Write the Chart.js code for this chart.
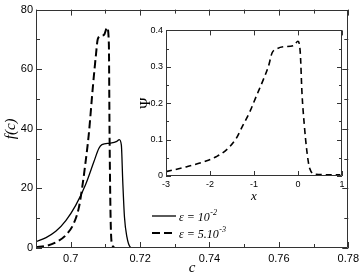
<!DOCTYPE html>
<html>
<head>
<meta charset="utf-8">
<script src="https://cdn.jsdelivr.net/npm/chart.js@4/dist/chart.umd.min.js"></script>
<style>
  html, body { margin: 0; padding: 0; background: #fff; }
  #wrap { position: relative; width: 363px; height: 273px; }
  #main { position: absolute; left: 0; top: 0; }
  #inset { position: absolute; left: 130px; top: 22px; }
</style>
</head>
<body>
<div id="wrap">
  <canvas id="main" width="363" height="273"></canvas>
  <canvas id="inset" width="218" height="180"></canvas>
</div>
<script>
// main panel: f(c) for the two epsilon values
const solidC = [0.69, 0.6929, 0.6957, 0.6986, 0.7014, 0.7043, 0.7067, 0.7081, 0.709, 0.7114, 0.7133, 0.714, 0.7146, 0.715, 0.7155, 0.7162, 0.7171, 0.718, 0.722];
const solidF = [2.1, 3.5, 5.6, 9.2, 14.2, 21.3, 29, 33.4, 34.7, 35.2, 35.8, 36.4, 34.5, 22.4, 10.3, 3.7, 0.4, 0, 0];
const dashC = [0.69, 0.6929, 0.6957, 0.6986, 0.7009, 0.7024, 0.7033, 0.7043, 0.7052, 0.7064, 0.7073, 0.7078, 0.7088, 0.7097, 0.7105, 0.711, 0.7112, 0.7115, 0.7119, 0.7129];
const dashF = [0.3, 0.7, 1.9, 4.3, 8.3, 13.8, 20.2, 29, 38, 54.2, 65.1, 70.1, 71.2, 71.7, 74, 68.5, 37.8, 10, 1.2, 0];

// inset: psi(x)
const insetX = [-3, -2.544, -2.09, -1.86, -1.633, -1.405, -1.253, -1.1, -0.966, -0.784, -0.67, -0.59, -0.517, -0.328, -0.1, 0, 0.052, 0.09, 0.144, 0.204, 0.265, 0.394, 0.96];
const insetPsi = [0.012, 0.025, 0.041, 0.053, 0.071, 0.103, 0.139, 0.175, 0.214, 0.266, 0.302, 0.338, 0.347, 0.355, 0.358, 0.37, 0.338, 0.229, 0.139, 0.066, 0.021, 0.005, 0.003];

// ticks
const cTicks = [0.7, 0.72, 0.74, 0.76, 0.78];
const cMinor = [0.69, 0.71, 0.73, 0.75, 0.77];
const fTicks = [0, 20, 40, 60, 80];
const fMinor = [10, 30, 50, 70];
const xTicks = [-3, -2, -1, 0, 1];
const psiTicks = [0, 0.1, 0.2, 0.3, 0.4];
const psiMinor = [0.05, 0.15, 0.25, 0.35];

const legendBase = ["\u03b5 = 10", "\u03b5 = 5.10"];
const legendExp = ["-2", "-3"];

const sansFont = "'Liberation Sans', Arial, sans-serif";
const serifFont = "'Liberation Serif', 'Times New Roman', serif";

function pts(xs, ys) {
  return xs.map((v, i) => ({ x: v, y: ys[i] }));
}

// box with inward ticks on all four sides
const frameTicks = {
  id: "frameTicks",
  afterDraw(chart, args, o) {
    const ctx = chart.ctx;
    const a = chart.chartArea;
    const sx = chart.scales.x, sy = chart.scales.y;
    ctx.save();
    ctx.strokeStyle = "#333";
    ctx.lineWidth = 1;
    ctx.beginPath();
    ctx.rect(Math.round(a.left) + 0.5, Math.round(a.top) + 0.5, Math.round(a.right - a.left) - 1, Math.round(a.bottom - a.top) - 1);
    const xt = (vals, len) => vals.forEach(v => {
      const p = Math.round(sx.getPixelForValue(v)) + 0.5;
      ctx.moveTo(p, a.bottom); ctx.lineTo(p, a.bottom - len);
      ctx.moveTo(p, a.top); ctx.lineTo(p, a.top + len);
    });
    const yt = (vals, len) => vals.forEach(v => {
      const p = Math.round(sy.getPixelForValue(v)) + 0.5;
      ctx.moveTo(a.left, p); ctx.lineTo(a.left + len, p);
      ctx.moveTo(a.right, p); ctx.lineTo(a.right - len, p);
    });
    xt(o.xMajor || [], o.major); xt(o.xMinor || [], o.minor);
    yt(o.yMajor || [], o.major); yt(o.yMinor || [], o.minor);
    ctx.stroke();
    ctx.restore();
  }
};

const epsLegend = {
  id: "epsLegend",
  afterDraw(chart) {
    const ctx = chart.ctx;
    ctx.save();
    const rows = [
      { y: 216, dash: [], w: 1.3 },
      { y: 233, dash: [8, 4], w: 2 }
    ];
    rows.forEach((r, i) => {
      ctx.beginPath();
      ctx.setLineDash(r.dash);
      ctx.lineWidth = r.w;
      ctx.strokeStyle = "#000";
      ctx.moveTo(152, r.y); ctx.lineTo(176, r.y);
      ctx.stroke();
      ctx.setLineDash([]);
      ctx.fillStyle = "#000";
      ctx.textBaseline = "middle";
      ctx.font = "italic 12px " + serifFont;
      ctx.fillText(legendBase[i], 179, r.y + 2);
      const w = ctx.measureText(legendBase[i]).width;
      ctx.font = "italic 8px " + serifFont;
      ctx.fillText(legendExp[i], 179 + w + 0.5, r.y - 3);
    });
    ctx.restore();
  }
};

new Chart(document.getElementById("main"), {
  type: "line",
  data: {
    datasets: [
      { data: pts(solidC, solidF), borderColor: "#000", borderWidth: 1.3, pointRadius: 0, cubicInterpolationMode: "monotone", fill: false },
      { data: pts(dashC, dashF), borderColor: "#000", borderWidth: 2, borderDash: [8, 4], pointRadius: 0, cubicInterpolationMode: "monotone", fill: false }
    ]
  },
  options: {
    responsive: false,
    animation: false,
    devicePixelRatio: 1,
    layout: { padding: { top: 5, right: 13, left: 0, bottom: 0 } },
    plugins: {
      legend: { display: false },
      tooltip: { enabled: false },
      frameTicks: { xMajor: cTicks, xMinor: cMinor, yMajor: fTicks, yMinor: fMinor, major: 6, minor: 4 }
    },
    scales: {
      x: {
        type: "linear", min: 0.69, max: 0.78,
        grid: { display: false, drawTicks: false }, border: { display: false },
        afterBuildTicks: s => { s.ticks = cTicks.map(v => ({ value: v })); },
        afterFit: s => { s.height = 25; },
        ticks: { padding: 4, color: "#000", maxRotation: 0, autoSkip: false, font: { family: sansFont, size: 11 }, callback: v => String(v) },
        title: { display: true, text: "c", color: "#000", padding: 0, font: { family: serifFont, size: 15, style: "italic", lineHeight: 0.7 } }
      },
      y: {
        type: "linear", min: 0, max: 80,
        grid: { display: false, drawTicks: false }, border: { display: false },
        afterBuildTicks: s => { s.ticks = fTicks.map(v => ({ value: v })); },
        afterFit: s => { s.width = 36; },
        ticks: { padding: 3, color: "#000", autoSkip: false, font: { family: sansFont, size: 11 }, callback: v => String(v) },
        title: { display: true, text: "f(c)", color: "#000", padding: { top: 4, bottom: 0 }, font: { family: serifFont, size: 15, style: "italic", lineHeight: 1 } }
      }
    }
  },
  plugins: [frameTicks, epsLegend]
});

new Chart(document.getElementById("inset"), {
  type: "line",
  data: {
    datasets: [
      { data: pts(insetX, insetPsi), borderColor: "#000", borderWidth: 1.6, borderDash: [6, 4], pointRadius: 0, cubicInterpolationMode: "monotone", fill: false }
    ]
  },
  options: {
    responsive: false,
    animation: false,
    devicePixelRatio: 1,
    layout: { padding: { top: 7, right: 6, left: 0, bottom: 0 } },
    plugins: {
      legend: { display: false },
      tooltip: { enabled: false },
      frameTicks: { xMajor: xTicks, yMajor: psiTicks, yMinor: psiMinor, major: 5, minor: 3 }
    },
    scales: {
      x: {
        type: "linear", min: -3, max: 1,
        grid: { display: false, drawTicks: false }, border: { display: false },
        afterBuildTicks: s => { s.ticks = xTicks.map(v => ({ value: v })); },
        afterFit: s => { s.height = 26; },
        ticks: { padding: 3, color: "#000", maxRotation: 0, autoSkip: false, font: { family: sansFont, size: 9 }, callback: v => String(v) },
        title: { display: true, text: "x", color: "#000", padding: 0, font: { family: serifFont, size: 13, style: "italic", lineHeight: 0.8 } }
      },
      y: {
        type: "linear", min: 0, max: 0.4,
        grid: { display: false, drawTicks: false }, border: { display: false },
        afterBuildTicks: s => { s.ticks = psiTicks.map(v => ({ value: v })); },
        afterFit: s => { s.width = 36; },
        ticks: { padding: 3, color: "#000", autoSkip: false, font: { family: sansFont, size: 9 }, callback: v => String(v) },
        title: { display: true, text: "\u03a8", color: "#000", padding: { top: 9, bottom: 0 }, font: { family: serifFont, size: 15, lineHeight: 1 } }
      }
    }
  },
  plugins: [frameTicks]
});
</script>
</body>
</html>
